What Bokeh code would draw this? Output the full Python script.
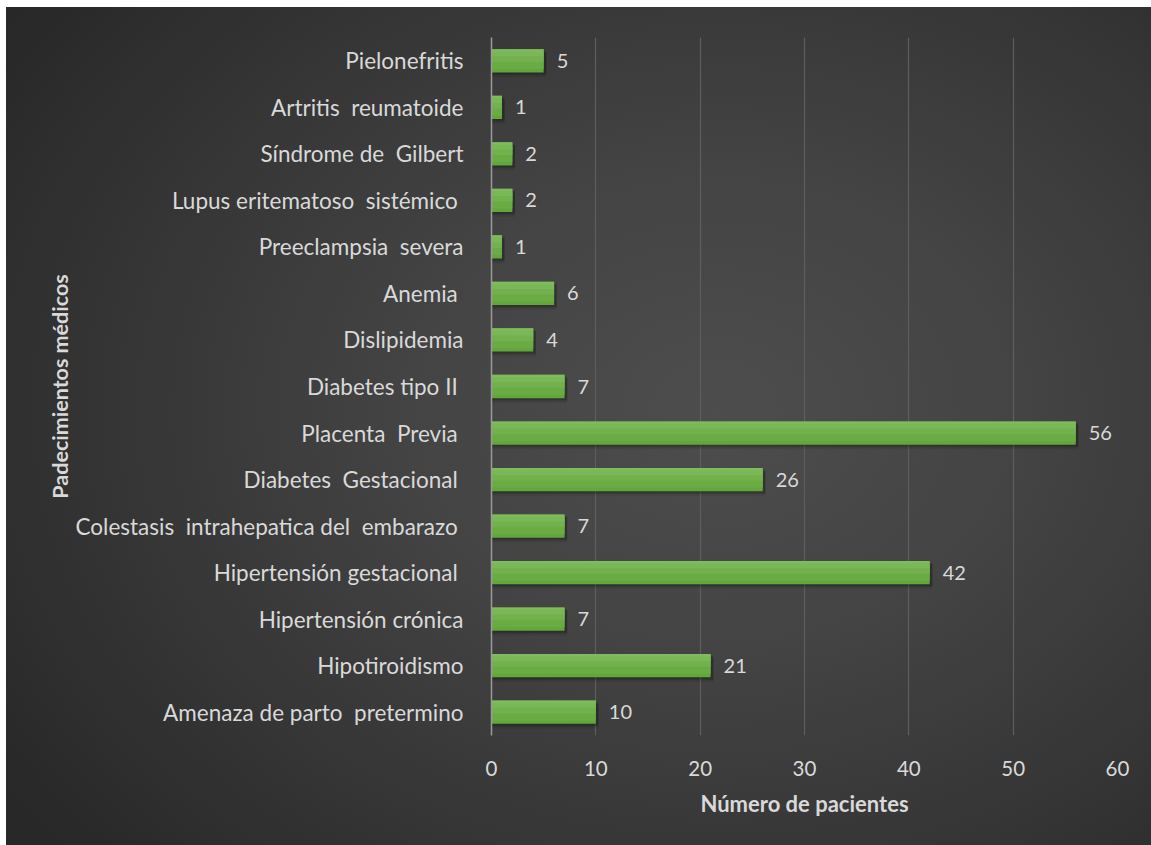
from bokeh.plotting import figure
from bokeh.models import ColumnDataSource, FactorRange, Range1d, LabelSet, FixedTicker
from bokeh.transform import dodge
from bokeh.embed import file_html
from bokeh.resources import INLINE
from bokeh.core.properties import value

NB = "\u00a0"
# top-to-bottom as shown in the chart
categories = [
    "Pielonefritis",
    "Artritis " + NB + "reumatoide",
    "Síndrome de " + NB + "Gilbert",
    "Lupus eritematoso " + NB + "sistémico" + NB,
    "Preeclampsia " + NB + "severa",
    "Anemia" + NB,
    "Dislipidemia",
    "Diabetes tipo II" + NB,
    "Placenta " + NB + "Previa" + NB,
    "Diabetes " + NB + "Gestacional" + NB,
    "Colestasis " + NB + "intrahepatica del " + NB + "embarazo" + NB,
    "Hipertensión gestacional" + NB,
    "Hipertensión crónica",
    "Hipotiroidismo",
    "Amenaza de parto " + NB + "pretermino",
]
values = [5, 1, 2, 2, 1, 6, 4, 7, 56, 26, 7, 42, 7, 21, 10]
x_ticks = [0, 10, 20, 30, 40, 50, 60]
y_title = "Padecimientos médicos"
x_title = "Número de pacientes"

factors = categories[::-1]
vals = values[::-1]

src = ColumnDataSource(dict(cat=factors, val=vals,
                            shadow=[v + 0.25 for v in vals],
                            lab=[str(v) for v in vals]))

FONT = "Lato"
TXT = "#d9d9d9"

p = figure(width=1145, height=838, output_backend="svg", toolbar_location=None,
           y_range=FactorRange(factors=factors, range_padding=0),
           x_range=Range1d(0, 60),
           min_border_left=485, min_border_right=34, min_border_top=30, min_border_bottom=110)
p.margin = (7, 0, 0, 6)

p.styles = {"background": "radial-gradient(ellipse 75% 80% at 62% 48%, #4d4d4d 0%, #444444 35%, #353535 70%, #282828 100%)"}
p.background_fill_alpha = 0
p.border_fill_alpha = 0
p.outline_line_color = None

# grid
p.ygrid.grid_line_color = None
p.xgrid.grid_line_color = "#5e5e5e"
p.xgrid.grid_line_width = 1.2
p.xaxis.ticker = FixedTicker(ticks=x_ticks)

# soft shadows
p.hbar(y=dodge("cat", -0.09, range=p.y_range), left=0, right="shadow", height=0.52,
       source=src, fill_color="black", fill_alpha=0.08, line_color=None)
p.hbar(y=dodge("cat", -0.06, range=p.y_range), left=0, right="shadow", height=0.5,
       source=src, fill_color="black", fill_alpha=0.12, line_color=None)
p.hbar(y=dodge("cat", -0.035, range=p.y_range), left=0, right="shadow", height=0.5,
       source=src, fill_color="black", fill_alpha=0.12, line_color=None)

# bars: base colour plus lighter strips on the upper part (vertical gradient)
p.hbar(y="cat", left=0, right="val", height=0.5, source=src,
       fill_color="#62a63c", line_color=None)
strip_colors = ["#6aab44", "#72b14d", "#7ab756", "#80bb5e"]
offsets = [0.1, 0.15, 0.19, 0.225]
heights = [0.3, 0.2, 0.12, 0.05]
for c, o, h in zip(strip_colors, offsets, heights):
    p.hbar(y=dodge("cat", o - h / 2 + 0.025, range=p.y_range), left=0, right="val", height=h,
           source=src, fill_color=c, line_color=None)

labels = LabelSet(x="val", y="cat", text="lab", source=src, x_offset=13,
                  text_align="left", text_baseline="middle",
                  text_color=TXT, text_font=value(FONT), text_font_size="20px")
p.add_layout(labels)

# axes
p.yaxis.axis_line_color = "#9a9a9a"
p.yaxis.axis_line_width = 1.5
p.yaxis.major_tick_line_color = None
p.yaxis.minor_tick_line_color = None
p.yaxis.major_label_standoff = 22
p.yaxis.major_label_text_font = FONT
p.yaxis.major_label_text_font_size = "22.5px"
p.yaxis.major_label_text_color = TXT
p.yaxis.axis_label = y_title
p.yaxis.axis_label_text_font = FONT
p.yaxis.axis_label_text_font_style = "bold"
p.yaxis.axis_label_text_font_size = "21.5px"
p.yaxis.axis_label_text_color = TXT
p.yaxis.axis_label_standoff = 0

p.xaxis.axis_line_color = None
p.xaxis.major_tick_line_color = None
p.xaxis.minor_tick_line_color = None
p.xaxis.major_label_standoff = 19
p.xaxis.major_label_text_font = FONT
p.xaxis.major_label_text_font_size = "20.5px"
p.xaxis.major_label_text_color = TXT
p.xaxis.axis_label = x_title
p.xaxis.axis_label_text_font = FONT
p.xaxis.axis_label_text_font_style = "bold"
p.xaxis.axis_label_text_font_size = "22px"
p.xaxis.axis_label_text_color = TXT
p.xaxis.axis_label_standoff = 11

open("out.html", "w").write(file_html(p, INLINE))
